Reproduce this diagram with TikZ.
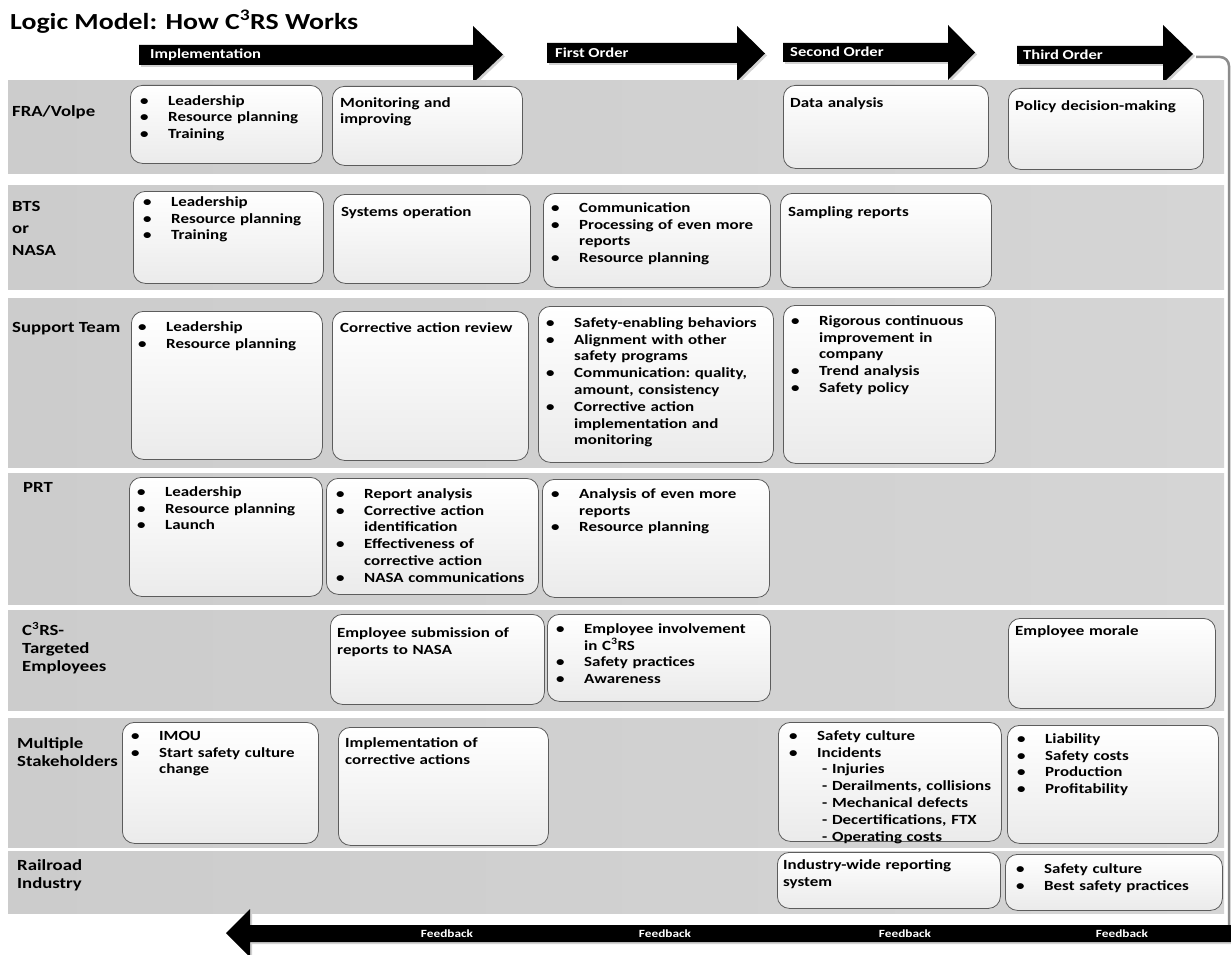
\documentclass[tikz,border=0pt]{standalone}
\usepackage{fontspec}
\setmainfont[FakeStretch=1.21]{Carlito}
\usetikzlibrary{calc}
\definecolor{boxedge}{HTML}{5C5C5C}
\definecolor{linkgray}{HTML}{8C8C8C}
\newcommand\cellfont{\bfseries\fontsize{14pt}{16.8pt}\selectfont\frenchspacing}
\newcommand\br{\unskip\hfil\break}
\newcommand\itm[1]{\hangindent=28pt\hangafter=1\noindent\hbox to 28pt{\textbullet\hfil}\strut#1\par}
\newcommand\CRS{C\textsuperscript{3}RS}
% name, x1, y1, x2, y2, text x, first baseline, content
\newcommand\cellx[8]{%
  \node[cellbox, minimum width={#4pt-#2pt}, minimum height={#5pt-#3pt}] (#1) at (#2,#3) {};
  \node[celltxt, text width={#4pt-#6pt+15pt}] (#1t) at (#6,#7-11.76) {#8};
}
\newcommand\band[3]{% name, y1, y2
  \node[bandbox, minimum height={#3pt-#2pt}] (#1) at (8,#2) {};
}
\begin{document}
\begin{tikzpicture}[x=1pt,y=-1pt,
  cellbox/.style={anchor=north west, inner sep=0pt, draw=boxedge, line width=0.8pt,
    rounded corners=12pt, top color=white, bottom color=gray!16},
  celltxt/.style={anchor=north west, inner sep=0pt, align=left, font=\cellfont},
  bandbox/.style={anchor=north west, inner sep=0pt, minimum width=1216pt,
    left color=gray!40, right color=gray!33},
  rowlab/.style={anchor=north west, inner sep=0pt, align=left, font=\bfseries\fontsize{15.5pt}{18pt}\selectfont},
  headlab/.style={anchor=west, inner sep=0pt, text=white, font=\bfseries\fontsize{13.7pt}{16pt}\selectfont},
  fblab/.style={inner sep=0pt, text=white, font=\bfseries\fontsize{11pt}{12pt}\selectfont},
  arrowshape/.style={fill=black},
  arrowshadow/.style={fill=gray!35},
]
\useasboundingbox (0,0) rectangle (1231,955);
\fill[white] (0,0) rectangle (1231,955);

% title
\node[anchor=base west, inner sep=0pt, font=\bfseries\fontsize{23pt}{27pt}\selectfont] (title) at (10,30) {Logic Model: How \CRS\ Works};

% header arrows
\foreach \a/\b/\c/\d/\e/\f/\g in {139/45/65/473/26/83/503, 547/43/63/737/26/81/765, 783/43/62/948/25/80/975, 1017/46/64/1163/25/83/1193}{
  \fill[arrowshadow] (\a+2,\b+2) -- (\d+2,\b+2) -- (\d+2,\e+2) -- (\g+2,{(\e+\f)/2+2}) -- (\d+2,\f+2) -- (\d+2,\c+2) -- (\a+2,\c+2) -- cycle;
  \fill[arrowshape] (\a,\b) -- (\d,\b) -- (\d,\e) -- (\g,{(\e+\f)/2}) -- (\d,\f) -- (\d,\c) -- (\a,\c) -- cycle;
}
\node[headlab] (h1) at (150,55) {Implementation};
\node[headlab] (h2) at (555,53) {First Order};
\node[headlab] (h3) at (790,52) {Second Order};
\node[headlab] (h4) at (1023,55) {Third Order};

% bands
\band{r1}{80}{173}
\band{r2}{185}{289}
\band{r3}{298}{467}
\band{r4}{473}{604}
\band{r5}{610}{710}
\band{r6}{718}{847}
\band{r7}{851}{913}

% feedback loop line
\coordinate (loopstart) at (1196,57);
\coordinate (loopend) at (1229,926);
\draw[linkgray, line width=2.5pt, rounded corners=9pt] (loopstart) -- (1229,57) -- (loopend);

% row labels
\node[rowlab] (l1) at (12,116-12.6) {\strut FRA/Volpe};
\node[rowlab] (l2) at (12,211-12.6) {\strut BTS\\[4pt]or\\[4pt]NASA};
\node[rowlab] (l3) at (12,332-12.6) {\strut Support Team};
\node[rowlab] (l4) at (23,492-12.6) {\strut PRT};
\node[rowlab] (l5) at (22,635-12.6) {\strut \CRS-\\Targeted\\Employees};
\node[rowlab] (l6) at (17,748-12.6) {\strut Multiple\\Stakeholders};
\node[rowlab] (l7) at (17,870-12.6) {\strut Railroad\\Industry};

% FRA/Volpe
\cellx{a1}{130}{85}{322}{163}{140}{105}{\itm{Leadership}\itm{Resource planning}\itm{Training}}
\cellx{a2}{332}{86}{522}{165}{340}{107}{\strut Monitoring and\\improving}
\cellx{a3}{783}{85}{988}{168}{790}{107}{\strut Data analysis}
\cellx{a4}{1008}{88}{1203}{169}{1015}{110}{\strut Policy decision-making}
% BTS or NASA
\cellx{b1}{133}{191}{323}{283}{143}{206}{\itm{Leadership}\itm{Resource planning}\itm{Training}}
\cellx{b2}{333}{194}{530}{283}{341}{216}{\strut Systems operation}
\cellx{b3}{543}{193}{770}{287}{551}{212}{\itm{Communication}\itm{Processing of even more\br reports}\itm{Resource planning}}
\cellx{b4}{780}{193}{991}{287}{788}{216}{\strut Sampling reports}
% Support Team
\cellx{c1}{131}{311}{322}{459}{138}{331}{\itm{Leadership}\itm{Resource planning}}
\cellx{c2}{332}{311}{528}{460}{340}{332}{\strut Corrective action review}
\cellx{c3}{538}{306}{773}{462}{546}{327}{\itm{Safety-enabling behaviors}\itm{Alignment with other\br safety programs}\itm{Communication: quality,\br amount, consistency}\itm{Corrective action\br implementation and\br monitoring}}
\cellx{c4}{783}{305}{995}{463}{791}{325}{\itm{Rigorous continuous\br improvement in\br company}\itm{Trend analysis}\itm{Safety policy}}
% PRT
\cellx{d1}{129}{477}{322}{596}{137}{496}{\itm{Leadership}\itm{Resource planning}\itm{Launch}}
\cellx{d2}{326}{478}{538}{594}{336}{498}{\itm{Report analysis}\itm{Corrective action\br identification}\itm{Effectiveness of\br corrective action}\itm{NASA communications}}
\cellx{d3}{542}{479}{769}{597}{551}{498}{\itm{Analysis of even more\br reports}\itm{Resource planning}}
% C3RS-Targeted Employees
\cellx{e1}{330}{614}{544}{704}{337}{637}{\strut Employee submission of\\reports to NASA}
\cellx{e2}{547}{614}{770}{701}{556}{633}{\itm{Employee involvement\br in \CRS}\itm{Safety practices}\itm{Awareness}}
\cellx{e3}{1008}{618}{1215}{708}{1015}{635}{\strut Employee morale}
% Multiple Stakeholders
\cellx{f1}{122}{722}{318}{843}{131}{740}{\itm{IMOU}\itm{Start safety culture\br change}}
\cellx{f2}{338}{727}{548}{845}{345}{747}{\strut Implementation of\\corrective actions}
\cellx{f3}{778}{722}{1001}{841}{789}{740}{\itm{Safety culture}\itm{Incidents\br\hspace*{5pt}- Injuries\br\hspace*{5pt}- Derailments, collisions\br\hspace*{5pt}- Mechanical defects\br\hspace*{5pt}- Decertifications, FTX\br\hspace*{5pt}- Operating costs}}
\cellx{f4}{1007}{725}{1218}{843}{1017}{743}{\itm{Liability}\itm{Safety costs}\itm{Production}\itm{Profitability}}
% Railroad Industry
\cellx{g1}{777}{852}{1000}{908}{783}{869}{\strut Industry-wide reporting\\system}
\cellx{g2}{1005}{854}{1222}{910}{1016}{873}{\itm{Safety culture}\itm{Best safety practices}}

% feedback arrow
\fill[arrowshadow] (1231,927) -- (252,927) -- (252,911) -- (228,935) -- (252,959) -- (252,944) -- (1231,944) -- cycle;
\fill[arrowshape] (1231,925) -- (250,925) -- (250,909) -- (226,933) -- (250,957) -- (250,942) -- (1231,942) -- cycle;
\node[fblab] (fb1) at (447,933.5) {Feedback};
\node[fblab] (fb2) at (665,933.5) {Feedback};
\node[fblab] (fb3) at (905,933.5) {Feedback};
\node[fblab] (fb4) at (1122,933.5) {Feedback};
\end{tikzpicture}
\end{document}
